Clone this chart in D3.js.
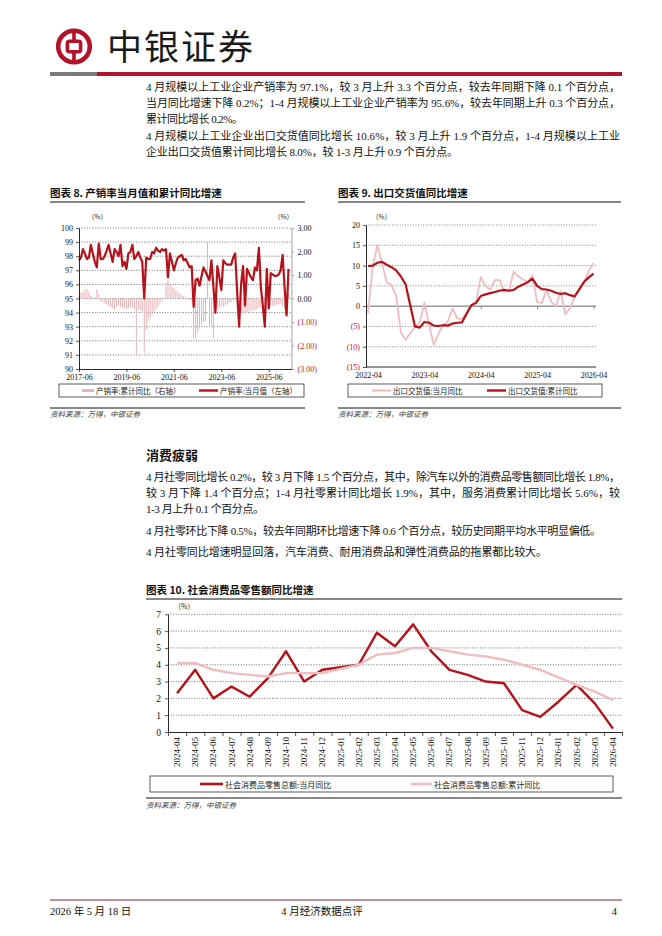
<!DOCTYPE html>
<html><head><meta charset="utf-8">
<script src="https://cdn.jsdelivr.net/npm/d3@7/dist/d3.min.js"></script>
<style>
body{margin:0;background:#fff;}
</style></head><body>
<svg id="page" width="662" height="936" xmlns="http://www.w3.org/2000/svg"></svg>
<script>
// ---------------- DATA ----------------
// Chart 8: 产销率 (2017-06 .. 2026-04, monthly)
const c8Ticks = ["2017-06","2019-06","2021-06","2023-06","2025-06"];
const c8Monthly = [
 97.7,97.9,98.5,98.2,97.8,97.9,98.8,98.2,97.6,97.2,
 98.9,97.8,97.8,98.0,98.4,98.8,98.2,97.6,98.5,98.3,
 98.0,98.8,97.3,97.6,97.1,98.2,98.3,98.8,97.8,98.0,
 98.3,97.9,97.6,95.0,97.9,97.8,97.8,98.3,98.2,98.6,
 98.4,98.3,98.5,98.4,98.5,96.5,98.2,97.6,97.0,97.5,
 97.9,98.0,98.1,97.7,97.8,97.5,97.2,97.3,94.4,96.3,
 96.4,95.9,96.6,97.2,96.9,96.6,96.3,97.7,95.8,94.0,
 97.3,96.5,95.6,97.7,97.5,97.4,97.4,97.4,97.9,98.2,
 95.5,93.0,96.0,97.3,94.5,97.1,96.8,96.5,96.3,97.2,
 97.0,98.6,95.8,94.5,93.0,97.1,94.3,96.8,96.7,96.6,
 96.6,96.7,97.0,98.1,95.8,93.8,97.1];
const c8Cum = [
 0.15,0.25,0.3,0.4,0.4,0.3,0.1,0.0,0.05,0.4,
 0.2,-0.1,-0.15,-0.2,-0.25,-0.3,-0.35,-0.4,-0.5,-0.35,
 -0.3,-0.35,-0.4,-0.4,-0.45,-0.4,-0.35,-0.4,-0.45,-2.4,
 -0.45,-0.5,-0.55,-2.3,-1.35,-0.95,-0.8,-0.7,-0.56,-0.45,
 -0.35,-0.2,-0.1,0.05,0.7,0.8,0.6,0.5,0.45,0.35,
 0.3,0.2,0.15,0.1,0.05,0.02,-0.05,-0.1,-1.7,-1.7,
 -1.45,-1.3,-1.1,-1.0,-0.95,2.4,-1.25,-1.2,-1.7,-0.5,
 -0.45,-0.4,-0.35,-0.35,-0.3,-0.25,-0.2,-0.15,-0.1,-0.05,
 -0.3,-0.55,-0.6,-0.65,-0.6,-0.6,-0.55,-0.55,-0.5,-0.5,
 -0.45,-0.4,-0.4,-0.4,-0.45,-0.4,-0.35,-0.35,-0.3,-0.3,
 -0.25,-0.25,-0.2,-0.3,-0.45,-0.5,0.2];
const c8LeftTicks = [90,91,92,93,94,95,96,97,98,99,100];
const c8RightTicks = [-3,-2,-1,0,1,2,3];

// Chart 9: 出口交货值 (2022-04 .. 2026-04, monthly, January merged -> null)
const c9Ticks = ["2022-04","2023-04","2024-04","2025-04","2026-04"];
const c9Monthly = [
 -1.8,9.8,15.0,10.5,5.8,5.2,2.5,-6.5,-8.3,null,
 -5.1,-4.0,0.8,-4.5,-9.5,-6.8,-4.7,-3.8,-0.6,-3.0,
 -3.2,null,0.3,1.0,7.2,5.0,4.0,6.4,6.4,3.6,
 3.9,8.5,7.3,null,5.9,7.6,1.0,0.8,3.9,1.1,
 0.0,3.7,-2.0,-0.5,2.3,null,5.9,8.7,10.6];
const c9Cum = [
 9.9,10.0,10.7,10.9,10.2,9.6,8.8,7.3,5.4,null,
 -5.0,-5.3,-3.9,-4.1,-4.8,-4.9,-4.7,-4.8,-4.3,-4.1,
 -4.0,null,0.2,0.8,2.5,2.9,3.2,3.5,3.8,4.0,
 3.8,4.0,4.8,null,5.9,6.8,5.0,4.2,4.1,3.8,
 3.3,3.0,3.2,2.7,2.4,null,6.0,7.1,8.0];
const c9YTicks = [-15,-10,-5,0,5,10,15,20];

// Chart 10: 社会消费品零售总额
const c10Labels = ["2024-04","2024-05","2024-06","2024-07","2024-08","2024-09","2024-10","2024-11","2024-12",
 "2025-01","2025-02","2025-03","2025-04","2025-05","2025-06","2025-07","2025-08","2025-09","2025-10",
 "2025-11","2025-12","2026-01","2026-02","2026-03","2026-04"];
const c10Monthly = [2.3,3.7,2.0,2.7,2.1,3.2,4.8,3.0,3.7,3.85,4.0,5.9,5.1,6.4,4.8,3.7,3.4,3.0,2.9,1.3,0.9,1.8,2.8,1.7,0.2];
const c10Cum = [4.1,4.1,3.7,3.5,3.4,3.3,3.5,3.5,3.5,3.75,4.0,4.6,4.7,5.0,5.0,4.8,4.6,4.5,4.3,4.0,3.7,3.25,2.8,2.4,1.9];
const c10YTicks = [0,1,2,3,4,5,6,7];

// Text
const para1 = ["4 月规模以上工业企业产销率为 97.1%，较 3 月上升 3.3 个百分点，较去年同期下降 0.1 个百分点，",
 "当月同比增速下降 0.2%；1-4 月规模以上工业企业产销率为 95.6%，较去年同期上升 0.3 个百分点，",
 "累计同比增长 0.2%。"];
const para2 = ["4 月规模以上工业企业出口交货值同比增长 10.6%，较 3 月上升 1.9 个百分点，1-4 月规模以上工业",
 "企业出口交货值累计同比增长 8.0%，较 1-3 月上升 0.9 个百分点。"];
const para3 = ["4 月社零同比增长 0.2%，较 3 月下降 1.5 个百分点，其中，除汽车以外的消费品零售额同比增长 1.8%，",
 "较 3 月下降 1.4 个百分点；1-4 月社零累计同比增长 1.9%，其中，服务消费累计同比增长 5.6%，较",
 "1-3 月上升 0.1 个百分点。"];
const para4 = ["4 月社零环比下降 0.5%，较去年同期环比增速下降 0.6 个百分点，较历史同期平均水平明显偏低。"];
const para5 = ["4 月社零同比增速明显回落，汽车消费、耐用消费品和弹性消费品的拖累都比较大。"];

// ---------------- DRAW ----------------
const svg = d3.select("#page");
const RED = "#b5121b", PINK = "#efbcc0", BAR = "#e8b3b7", HDR = "#b4122a", NEG = "#c0141c";
const SERIF = '"Liberation Serif","Noto Sans CJK SC",serif';
const CJK = '"Noto Sans CJK SC","Liberation Serif",sans-serif';

function txt(x, y, s, o = {}) {
  const t = svg.append("text").attr("x", x).attr("y", y).text(s)
    .attr("font-family", o.ff || SERIF).attr("font-size", o.fs || 11)
    .attr("fill", o.fill || "#111");
  if (o.fw) t.attr("font-weight", o.fw);
  if (o.anchor) t.attr("text-anchor", o.anchor);
  if (o.italic) t.attr("font-style", "italic");
  if (o.len) t.attr("textLength", o.len).attr("lengthAdjust", "spacing");
  if (o.ls) t.attr("letter-spacing", o.ls);
  return t;
}
function hline(x1, x2, y, stroke, w, dash) {
  const l = svg.append("line").attr("x1", x1).attr("x2", x2).attr("y1", y).attr("y2", y)
    .attr("stroke", stroke).attr("stroke-width", w);
  if (dash) l.attr("stroke-dasharray", dash);
  return l;
}

// Header
const logo = svg.append("g").attr("transform", "translate(74,46.5)");
logo.append("circle").attr("r", 15.8).attr("fill", "none").attr("stroke", HDR).attr("stroke-width", 4.6);
logo.append("rect").attr("x", -6.6).attr("y", -5.2).attr("width", 13.2).attr("height", 10.4).attr("rx", 2)
  .attr("fill", "none").attr("stroke", HDR).attr("stroke-width", 3.6);
logo.append("line").attr("x1", 0).attr("x2", 0).attr("y1", -15).attr("y2", -5).attr("stroke", HDR).attr("stroke-width", 3.6);
logo.append("line").attr("x1", 0).attr("x2", 0).attr("y1", 5).attr("y2", 15).attr("stroke", HDR).attr("stroke-width", 3.6);
txt(107, 60, "中银证券", {ff: CJK, fs: 35, fill: "#1a1a1a", len: 146, fw: 400});
svg.append("rect").attr("x", 50).attr("y", 72).attr("width", 47).attr("height", 4).attr("fill", "#7a7a7a");
svg.append("rect").attr("x", 97).attr("y", 72).attr("width", 525).attr("height", 4).attr("fill", HDR);

// Body paragraphs
const FULL = 474, X0 = 146;
function para(lines, y0, lens) {
  lines.forEach((s, i) => txt(X0, y0 + i * 16, s, {fs: 11, len: lens[i]}));
}
para(para1, 91, [FULL, FULL, 97]);
para(para2, 140, [FULL, 312]);
txt(X0, 460, "消费疲弱", {ff: CJK, fs: 13, fw: 700});
para(para3, 481, [FULL, FULL, 118]);
para(para4, 535, [455]);
para(para5, 556, [401]);

// ---- Chart 8 ----
txt(50, 197, "图表 8. 产销率当月值和累计同比增速", {ff: CJK, fs: 10.5, fw: 700});
hline(50, 305, 202, "#111", 1.2);
const c8Labels = d3.timeMonth.range(new Date(2017, 5, 1), new Date(2026, 4, 1)).map(d3.timeFormat("%Y-%m"));
const x8 = d3.scaleLinear().domain([0, 107.5]).range([79, 291.5]);
const yL = d3.scaleLinear().domain([90, 100]).range([369, 228]);
const yR = d3.scaleLinear().domain([-3, 3]).range([369, 228]);
const g8 = svg.append("g");
c8LeftTicks.filter(v => v > 90).forEach(v => {
  g8.append("line").attr("x1", 79).attr("x2", 291.5).attr("y1", yL(v)).attr("y2", yL(v))
    .attr("stroke", "#333").attr("stroke-width", 0.7).attr("stroke-dasharray", "1,1.6");
});
g8.selectAll("rect.bar").data(c8Cum).join("rect").attr("class", "bar")
  .attr("x", (d, i) => x8(i) - 0.5).attr("width", 1)
  .attr("y", d => yR(Math.max(0, d))).attr("height", d => Math.abs(yR(d) - yR(0)))
  .attr("fill", BAR);
g8.append("path").datum(c8Monthly).attr("fill", "none").attr("stroke", RED).attr("stroke-width", 2.2)
  .attr("stroke-linejoin", "round")
  .attr("d", d3.line().x((d, i) => x8(i)).y(d => yL(d)));
function styleAxis(g, fs, color) {
  g.selectAll("text").attr("font-family", SERIF).attr("font-size", fs).attr("fill", color || "#111");
  g.selectAll("line").attr("stroke", "#111").attr("stroke-width", 0.7);
  g.select(".domain").attr("stroke", "#111").attr("stroke-width", 0.9);
}
const aL = svg.append("g").attr("transform", "translate(79,0)")
  .call(d3.axisLeft(yL).tickValues(c8LeftTicks).tickSize(3).tickSizeOuter(0).tickPadding(3).tickFormat(d3.format("d")));
styleAxis(aL, 8);
const aR = svg.append("g").attr("transform", "translate(291.5,0)")
  .call(d3.axisRight(yR).tickValues(c8RightTicks).tickSize(3).tickSizeOuter(0).tickPadding(3)
    .tickFormat(v => v < 0 ? "(" + Math.abs(v).toFixed(2) + ")" : v.toFixed(2)));
styleAxis(aR, 8);
aR.selectAll("text").attr("fill", d => d < 0 ? NEG : "#111");
aR.select(".domain").attr("stroke", "#999");
aR.selectAll("line").attr("stroke", "#999");
const aB8 = svg.append("g").attr("transform", "translate(0,369)")
  .call(d3.axisBottom(x8).tickValues(c8Ticks.map(t => c8Labels.indexOf(t))).tickSize(3).tickSizeOuter(0).tickPadding(2)
    .tickFormat(i => c8Labels[i]));
styleAxis(aB8, 8);
txt(88, 219, "（%）", {ff: CJK, fs: 6.5, fill: "#222"});
txt(274, 219, "（%）", {ff: CJK, fs: 6.5, fill: "#222"});
svg.append("rect").attr("x", 59).attr("y", 384).attr("width", 245).attr("height", 13)
  .attr("fill", "none").attr("stroke", "#333").attr("stroke-width", 0.8);
svg.append("rect").attr("x", 82).attr("y", 389).attr("width", 12).attr("height", 3).attr("fill", BAR);
txt(96, 393.5, "产销率:累计同比（右轴）", {ff: CJK, fs: 7.5, fill: "#222"});
hline(199, 218, 390.5, RED, 2.4);
txt(220, 393.5, "产销率:当月值（左轴）", {ff: CJK, fs: 7.5, fill: "#222"});
hline(50, 305, 408, "#111", 1);
txt(50, 417, "资料来源：万得，中银证券", {ff: CJK, fs: 7.5, fill: "#444", italic: true});

// ---- Chart 9 ----
txt(338, 197, "图表 9. 出口交货值同比增速", {ff: CJK, fs: 10.5, fw: 700});
hline(338, 621, 202, "#111", 1.2);
const c9Labels = d3.timeMonth.range(new Date(2022, 3, 1), new Date(2026, 4, 1)).map(d3.timeFormat("%Y-%m"));
const x9 = d3.scaleLinear().domain([0, 48]).range([368, 593.5]);
const y9 = d3.scaleLinear().domain([-15, 20]).range([367, 225]);
c9YTicks.filter(v => v !== 0 && v !== -15).forEach(v =>
  hline(366, 596, y9(v), "#555", 0.7, "1,1.6"));
hline(366, 596, y9(0), "#666", 1);
const ax0 = svg.append("g").attr("transform", "translate(0," + y9(0) + ")")
  .call(d3.axisBottom(x9).tickValues(c9Ticks.map(t => c9Labels.indexOf(t)).slice(1)).tickSize(3).tickSizeOuter(0).tickFormat(""));
ax0.select(".domain").remove();
ax0.selectAll("line").attr("stroke", "#666").attr("stroke-width", 0.8);
const line9 = d3.line().x(d => x9(d[0])).y(d => y9(d[1]));
const m9 = c9Monthly.map((v, i) => [i, v]).filter(d => d[1] !== null);
const k9 = c9Cum.map((v, i) => [i, v]).filter(d => d[1] !== null);
svg.append("path").datum(m9).attr("fill", "none").attr("stroke", PINK).attr("stroke-width", 1.8)
  .attr("stroke-linejoin", "round").attr("d", line9);
svg.append("path").datum(k9).attr("fill", "none").attr("stroke", RED).attr("stroke-width", 2.2)
  .attr("stroke-linejoin", "round").attr("d", line9);
const a9L = svg.append("g").attr("transform", "translate(366,0)")
  .call(d3.axisLeft(y9).tickValues(c9YTicks).tickSize(3).tickSizeOuter(0).tickPadding(3)
    .tickFormat(v => v < 0 ? "(" + Math.abs(v) + ")" : String(v)));
styleAxis(a9L, 8);
a9L.selectAll("text").attr("fill", d => d < 0 ? NEG : "#111");
const a9B = svg.append("g").attr("transform", "translate(0," + y9(-15) + ")")
  .call(d3.axisBottom(x9).tickValues(c9Ticks.map(t => c9Labels.indexOf(t))).tickSize(0).tickSizeOuter(0).tickPadding(5)
    .tickFormat(i => c9Labels[i]));
styleAxis(a9B, 8);
a9B.select(".domain").attr("d", "M366,0H596");
txt(372, 219, "（%）", {ff: CJK, fs: 6.5, fill: "#222"});
svg.append("rect").attr("x", 348).attr("y", 384).attr("width", 254).attr("height", 13)
  .attr("fill", "none").attr("stroke", "#333").attr("stroke-width", 0.8);
hline(372, 391, 390.5, PINK, 2.2);
txt(393, 393.5, "出口交货值:当月同比", {ff: CJK, fs: 7.5, fill: "#222"});
hline(487, 506, 390.5, RED, 2.4);
txt(508, 393.5, "出口交货值:累计同比", {ff: CJK, fs: 7.5, fill: "#222"});
hline(338, 621, 408, "#111", 1);
txt(338, 417, "资料来源：万得，中银证券", {ff: CJK, fs: 7.5, fill: "#444", italic: true});

// ---- Chart 10 ----
txt(146, 594, "图表 10. 社会消费品零售额同比增速", {ff: CJK, fs: 10.5, fw: 700});
hline(146, 622, 599, "#111", 1.2);
const x10 = d3.scaleBand().domain(c10Labels).range([168, 622]);
const y10 = d3.scaleLinear().domain([0, 7]).range([732, 614.3]);
c10YTicks.filter(v => v > 0).forEach(v => hline(168, 622, y10(v), "#333", 0.7, "1,1.6"));
const cx = d => x10(d) + x10.bandwidth() / 2;
const line10 = d3.line().x(d => cx(d[0])).y(d => y10(d[1]));
svg.append("path").datum(c10Labels.map((l, i) => [l, c10Monthly[i]])).attr("fill", "none").attr("stroke", RED)
  .attr("stroke-width", 2.4).attr("stroke-linejoin", "round").attr("d", line10);
svg.append("path").datum(c10Labels.map((l, i) => [l, c10Cum[i]])).attr("fill", "none").attr("stroke", PINK)
  .attr("stroke-width", 2.4).attr("stroke-linejoin", "round").attr("d", line10);
const a10L = svg.append("g").attr("transform", "translate(168,0)")
  .call(d3.axisLeft(y10).tickValues(c10YTicks).tickSize(3).tickSizeOuter(0).tickPadding(4).tickFormat(d3.format("d")));
styleAxis(a10L, 9.5);
const edge10 = d3.scaleLinear().domain([0, c10Labels.length]).range([168, 622]);
const a10E = svg.append("g").attr("transform", "translate(0,732)")
  .call(d3.axisBottom(edge10).tickValues(d3.range(0, c10Labels.length + 1)).tickSize(4).tickSizeOuter(0).tickFormat(""));
styleAxis(a10E, 9);
const a10B = svg.append("g").attr("transform", "translate(0,732)")
  .call(d3.axisBottom(x10).tickSize(0).tickSizeOuter(0));
a10B.select(".domain").remove();
a10B.selectAll("text").attr("font-family", SERIF).attr("font-size", 9).attr("fill", "#111")
  .attr("transform", "rotate(-90)").attr("text-anchor", "end").attr("x", -5).attr("y", 0).attr("dy", "0.33em");
txt(174, 609, "（%）", {ff: CJK, fs: 7, fill: "#222"});
svg.append("rect").attr("x", 150).attr("y", 776).attr("width", 463).attr("height", 16)
  .attr("fill", "none").attr("stroke", "#333").attr("stroke-width", 0.8);
hline(200, 223, 784, RED, 2.6);
txt(225, 787.5, "社会消费品零售总额:当月同比", {ff: CJK, fs: 8, fill: "#222"});
hline(411, 432, 784, PINK, 2.6);
txt(434, 787.5, "社会消费品零售总额:累计同比", {ff: CJK, fs: 8, fill: "#222"});
hline(146, 622, 798, "#111", 1);
txt(146, 808, "资料来源：万得，中银证券", {ff: CJK, fs: 7.5, fill: "#444", italic: true});

// Footer
hline(50, 622, 900, "#8c1c2c", 1);
txt(50, 915, "2026 年 5 月 18 日", {fs: 10.5});
txt(322, 915, "4 月经济数据点评", {fs: 10.5, anchor: "middle"});
txt(617, 915, "4", {fs: 10.5, anchor: "end"});
</script>
</body></html>
